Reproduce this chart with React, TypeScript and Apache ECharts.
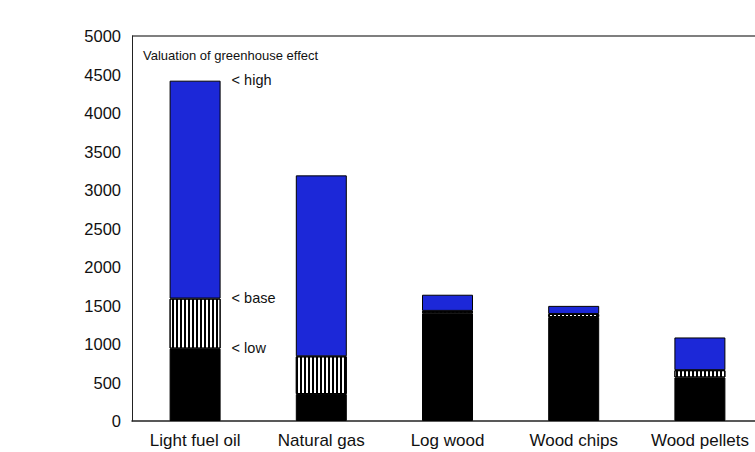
import React, { useEffect, useRef } from "react";
import * as echarts from "echarts";

const categories = ["Light fuel oil", "Natural gas", "Log wood", "Wood chips", "Wood pellets"];
const lowValues = [940, 350, 1400, 1350, 565];
const baseValues = [1590, 840, 1430, 1390, 660];
const highValues = [4420, 3190, 1640, 1495, 1085];
const annotations = ["< low", "< base", "< high"];
const chartTitle = "Valuation of greenhouse effect";

const FONT = "Liberation Sans, Arial, Helvetica, sans-serif";

export default function App() {
  const ref = useRef<HTMLDivElement>(null);
  useEffect(() => {
    if (!ref.current) return;
    const chart = echarts.init(ref.current, undefined, { renderer: "svg" });
    const hatch = baseValues.map((b, i) => b - lowValues[i]);
    const top = highValues.map((h, i) => h - baseValues[i]);
    const annLabel = (text: string) => ({
      show: true,
      position: ["100%", 0],
      distance: 0,
      offset: [11, -1],
      align: "left",
      verticalAlign: "middle",
      formatter: text,
      color: "#111",
      fontSize: 14.5,
      fontFamily: FONT,
    });
    const makeData = (vals: number[], text: string) =>
      vals.map((v, i) => (i === 0 ? { value: v, label: annLabel(text) } : { value: v }));
    chart.setOption({
      animation: false,
      backgroundColor: "#fff",
      grid: {
        left: 132,
        width: 631,
        top: 36,
        bottom: 31,
        outerBoundsMode: "none",
        containLabel: false,
        show: false,
      },
      title: {
        text: chartTitle,
        left: 138,
        top: 44,
        textStyle: { fontSize: 13, fontWeight: "normal", color: "#111", fontFamily: FONT },
      },
      xAxis: [
        {
          type: "category",
          data: categories,
          axisLine: { show: true, lineStyle: { color: "#222", width: 1.5 } },
          axisTick: { show: false },
          axisLabel: { color: "#111", fontSize: 17, fontFamily: FONT, margin: 11, interval: 0 },
        },
      ],
      yAxis: [
        {
          type: "value",
          min: 0,
          max: 5000,
          interval: 500,
          splitLine: { show: false },
          axisLine: { show: true, lineStyle: { color: "#222", width: 1 } },
          axisTick: { show: false },
          axisLabel: {
            color: "#111",
            fontSize: 16.5,
            fontFamily: FONT,
            margin: 11,
            formatter: (v: number) => String(v),
          },
        },
      ],
      series: [
        {
          type: "bar",
          stack: "a",
          barWidth: 51,
          data: makeData(lowValues, annotations[0]),
          itemStyle: { color: "#000", borderColor: "#000", borderWidth: 1 },
        },
        {
          type: "bar",
          stack: "a",
          barWidth: 51,
          data: makeData(hatch, annotations[1]),
          itemStyle: {
            color: "#fff",
            borderColor: "#000",
            borderWidth: 1,
            decal: {
              symbol: "rect",
              symbolSize: 1,
              color: "#000",
              backgroundColor: "#fff",
              dashArrayX: [2, 2],
              dashArrayY: [1, 0],
              rotation: 0,
            },
          },
        },
        {
          type: "bar",
          stack: "a",
          barWidth: 51,
          data: makeData(top, annotations[2]),
          itemStyle: { color: "#1c28d8", borderColor: "#000", borderWidth: 1 },
        },
      ],
      graphic: [
        {
          type: "line",
          shape: { x1: 132, y1: 36, x2: 755, y2: 36 },
          style: { stroke: "#555", lineWidth: 1.5 },
          silent: true,
        },
      ],
    });
    return () => chart.dispose();
  }, []);
  return (
    <div style={{ width: 755, height: 452, position: "absolute", left: 0, top: 0, overflow: "hidden", background: "#fff" }}>
      <div ref={ref} style={{ width: 755, height: 452 }} />
    </div>
  );
}
